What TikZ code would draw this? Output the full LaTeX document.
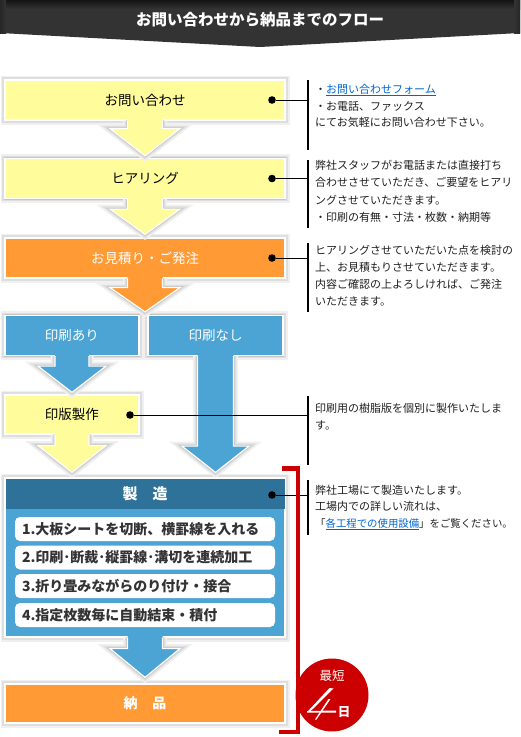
\documentclass[tikz,border=0pt]{standalone}
\usepackage{fontspec}
\setmainfont{Noto Sans CJK JP}
\usetikzlibrary{calc}
\definecolor{fyellow}{HTML}{FFFC9C}
\definecolor{forange}{HTML}{FF9A35}
\definecolor{fblue}{HTML}{4BA4D3}
\definecolor{fdblue}{HTML}{2E7199}
\definecolor{fred}{HTML}{CC0000}
\definecolor{linkblue}{HTML}{0066CC}
\definecolor{hdr}{HTML}{333333}
\newcommand\flowarrow[7]{%
  \coordinate (fa-s) at (#1.south);
  \coordinate (fa-h) at ($(#1.south)+(0,#6)$);
  \coordinate (fa-t) at ($(#1.south |- #2.north)+(0,-#7)$);
  \path[glow] ($(fa-s)+(-#4,0)$) -- ($(fa-h)+(-#4,0)$) -- ($(fa-h)+(-#5,0)$) -- (fa-t) -- ($(fa-h)+(#5,0)$) -- ($(fa-h)+(#4,0)$) -- ($(fa-s)+(#4,0)$);
  \fill[#3] ($(fa-s)+(-#4,-1.5)$) -- ($(fa-h)+(-#4,0)$) -- ($(fa-h)+(-#5,0)$) -- (fa-t) -- ($(fa-h)+(#5,0)$) -- ($(fa-h)+(#4,0)$) -- ($(fa-s)+(#4,-1.5)$) -- cycle;
  \draw[white, line width=1.2pt] ($(fa-s)+(-#4,0)$) -- ($(fa-h)+(-#4,0)$) -- ($(fa-h)+(-#5,0)$) -- (fa-t) -- ($(fa-h)+(#5,0)$) -- ($(fa-h)+(#4,0)$) -- ($(fa-s)+(#4,0)$);
}
\newcommand\rline[3]{\node[rtext] (#1) at (315,#2) {#3};}
\begin{document}
\begin{tikzpicture}[x=1pt,y=-1pt,
  glow/.style={preaction={draw=black!6,line width=9pt},preaction={draw=black!13,line width=5.5pt},preaction={draw=black!22,line width=2.6pt}},
  flowbox/.style={glow, draw=white, line width=1.2pt, inner sep=0pt, minimum height=40pt, font=\fontsize{13.5}{14}\selectfont},
  ybox/.style={flowbox, fill=fyellow, text=black},
  obox/.style={flowbox, fill=forange, text=white},
  bbox/.style={flowbox, fill=fblue, text=white},
  dotn/.style={circle, fill=black, inner sep=0pt, minimum size=7.6pt},
  conn/.style={draw=black, line width=0.9pt},
  vbar/.style={draw=black, line width=1.8pt},
  rtext/.style={anchor=base west, inner sep=0pt, font=\fontsize{11}{17}\selectfont, text=black!88},
  itembox/.style={fill=white, rounded corners=5pt, minimum height=24pt, text width=246pt, inner xsep=7pt, inner ysep=0pt, align=left, font=\bfseries\fontsize{14}{14}\selectfont, text=black!80},
]
\useasboundingbox (0,0) rectangle (520,737);
% header
\fill[hdr] (0,0) -- (520,0) -- (520,33) -- (260,47) -- (0,33) -- cycle;
\shade[top color=black!92, bottom color=hdr] (0,0) rectangle (520,9);
\shade[left color=black!85, right color=hdr] (0,0) rectangle (6,33);
\shade[right color=black!85, left color=hdr] (514,0) rectangle (520,33);
\node[text=white, font=\bfseries\fontsize{15.5}{16}\selectfont] (title) at (260,20) {お問い合わせから納品までのフロー};

% boxes
\node[ybox, minimum width=280pt] (b1) at (145,100) {お問い合わせ};
\node[ybox, minimum width=280pt] (b2) at (145,178.5) {ヒアリング};
\node[obox, minimum width=280pt] (b3) at (145,258) {お見積り・ご発注};
\node[bbox, minimum width=134pt] (aari) at (72,335.5) {印刷あり};
\node[bbox, minimum width=135pt] (nashi) at (215.5,335.5) {印刷なし};
\node[ybox, minimum width=134pt, minimum height=39pt] (hanban) at (72,414.5) {印版製作};
\node[flowbox, fill=fblue, minimum width=280pt, minimum height=159pt] (seizo) at (145,557.5) {};
\node[fill=fdblue, minimum width=279pt, minimum height=30pt, inner sep=0pt, text=white, font=\bfseries\fontsize{15}{15}\selectfont] (seizohead) at (145,493.5) {製\hspace{15pt}造};
\node[obox, minimum width=280pt, minimum height=39pt, font=\bfseries\fontsize{14}{14}\selectfont] (nohin) at (145,703.5) {納\hspace{15pt}品};

% items
\node[itembox] (it1) at (145,529) {1.大板シートを切断、横罫線を入れる};
\node[itembox] (it2) at (145,557.5) {2.印刷･断裁･縦罫線･溝切を連続加工};
\node[itembox] (it3) at (145,586) {3.折り畳みながらのり付け・接合};
\node[itembox] (it4) at (145,615) {4.指定枚数毎に自動結束・積付};

% arrows
\flowarrow{b1}{b2}{fyellow}{17.5}{35}{8}{2}
\flowarrow{b2}{b3}{fyellow}{17.5}{35}{10}{3}
\flowarrow{b3}{aari}{forange}{17.5}{35}{9}{3}
\flowarrow{aari}{hanban}{fblue}{17}{34}{10}{2}
\flowarrow{nashi}{seizo}{fblue}{18}{33.5}{90}{5}
\flowarrow{hanban}{seizo}{fyellow}{17}{34}{11}{5}
\flowarrow{seizo}{nohin}{fblue}{17.5}{35}{11}{6}

% dots, connectors, bars
\node[dotn] (d1) at (272,100) {};
\node[dotn] (d2) at (272,178.5) {};
\node[dotn] (d3) at (272,258) {};
\node[dotn] (d4) at (130,415) {};
\node[dotn] (d5) at (272,495) {};
\coordinate (c1) at (308,100);
\coordinate (c2) at (308,178.5);
\coordinate (c3) at (308,258);
\coordinate (c4) at (308,415);
\coordinate (c5) at (308,495);
\draw[conn] (d1) -- (c1);
\draw[conn] (d2) -- (c2);
\draw[conn] (d3) -- (c3);
\draw[conn] (d4) -- (c4);
\draw[conn] (d5) -- (c5);
\draw[vbar] (308,80) -- (308,150);
\draw[vbar] (308,160) -- (308,228);
\draw[vbar] (308,243) -- (308,312);
\draw[vbar] (308,396) -- (308,465);
\draw[vbar] (308,480) -- (308,535);

% right texts
\rline{t1a}{93}{・\textcolor{linkblue}{\underline{お問い合わせフォーム}}}
\rline{t1b}{110}{・お電話、ファックス}
\rline{t1c}{126}{にてお気軽にお問い合わせ下さい。}
\rline{t2a}{169}{弊社スタッフがお電話または直接打ち}
\rline{t2b}{186}{合わせさせていただき、ご要望をヒアリ}
\rline{t2c}{204}{ングさせていただきます。}
\rline{t2d}{221}{・印刷の有無・寸法・枚数・納期等}
\rline{t3a}{254}{ヒアリングさせていただいた点を検討の}
\rline{t3b}{271}{上、お見積もりさせていただきます。}
\rline{t3c}{288}{内容ご確認の上よろしければ、ご発注}
\rline{t3d}{305}{いただきます。}
\rline{t4a}{412}{印刷用の樹脂版を個別に製作いたしま}
\rline{t4b}{429}{す。}
\rline{t5a}{494}{弊社工場にて製造いたします。}
\rline{t5b}{510.5}{工場内での詳しい流れは、}
\rline{t5c}{527}{\fontsize{10.4}{17}\selectfont「\textcolor{linkblue}{\underline{各工程での使用設備}}」をご覧ください。}

% red bracket
\draw[fred, line width=4.5pt] (282,468.5) -- (298,468.5) -- (298,732) -- (279,732);

% badge
\node[circle, fill=fred, minimum size=73pt, inner sep=0pt] (badge) at (332,695) {};
\node[text=white, inner sep=0pt, font=\fontsize{12.5}{13}\selectfont] (saitan) at (332,675.5) {最短};
\fill[white] (329.5,688) -- (333.5,688.5) -- (309.5,712.2) -- (307,712.2) -- cycle;
\fill[white] (307,711) -- (336,710.5) -- (336,712.5) -- (307,712.5) -- cycle;
\fill[white] (328.5,699) -- (330.5,699) -- (316.5,719.5) -- (315,719.5) -- cycle;
\node[text=white, inner sep=0pt, font=\bfseries\fontsize{12.5}{13}\selectfont] (hi) at (344,712.5) {日};
\end{tikzpicture}
\end{document}
